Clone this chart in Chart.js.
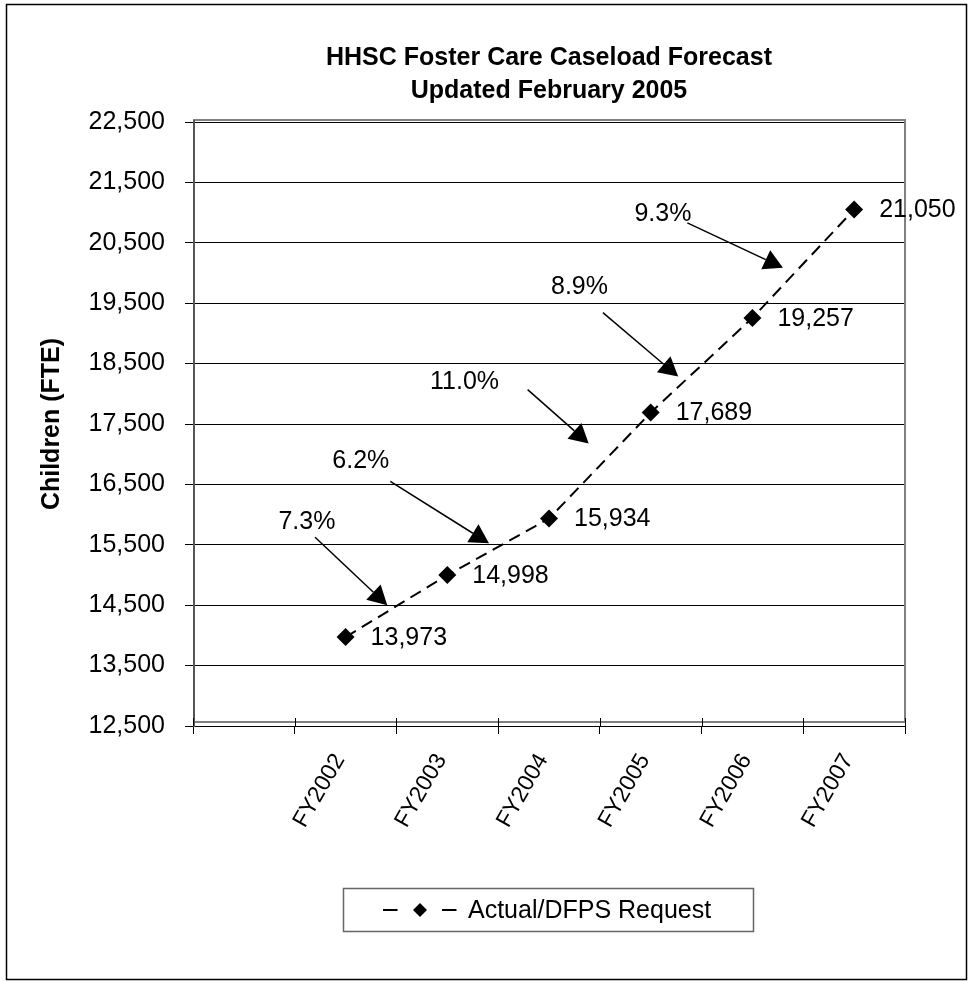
<!DOCTYPE html>
<html><head><meta charset="utf-8">
<script src="https://cdn.jsdelivr.net/npm/chart.js@4.4.1/dist/chart.umd.min.js"></script>
<style>html,body{margin:0;padding:0;background:#fff}#wrap{width:972px;height:981px;position:relative}</style>
</head><body><div id="wrap"><canvas id="c" width="972" height="981"></canvas></div>
<script>
const categories = ['', 'FY2002', 'FY2003', 'FY2004', 'FY2005', 'FY2006', 'FY2007'];
const caseload = [null, 13973, 14998, 15934, 17689, 19257, 21050];
const yMin = 12500, yMax = 22500, yStep = 1000;
const growthLabels = ['7.3%', '6.2%', '11.0%', '8.9%', '9.3%'];
const titleLines = ['HHSC Foster Care Caseload Forecast', 'Updated February 2005'];
const yTitle = 'Children (FTE)';
const seriesName = 'Actual/DFPS Request';

const FONT = '"Liberation Sans", Arial, Helvetica, sans-serif';

// annotation anchors in data units: [category index, value]
const annot = {
  label: [[0.62, 15872], [1.15, 16880], [2.17, 18186], [3.30, 19773], [4.12, 20979]],
  from:  [[0.70, 15624], [1.44, 16549], [2.79, 18070], [3.53, 19343], [4.36, 20830]],
  to:    [[1.41, 14500], [2.41, 15524], [3.39, 17177], [4.27, 18285], [5.30, 20087]]
};

const numFmt = v => v.toLocaleString('en-US');

const decor = {
  id: 'decor',
  beforeDatasetsDraw(chart) {
    const ctx = chart.ctx, a = chart.chartArea, xs = chart.scales.x;
    ctx.save();
    ctx.strokeStyle = '#808080'; ctx.lineWidth = 2;
    ctx.strokeRect(a.left + 1, a.top - 2, a.right - a.left - 1, a.bottom - a.top - 2);
    ctx.strokeStyle = '#000'; ctx.lineWidth = 1;
    ctx.beginPath();
    ctx.moveTo(a.left, a.bottom + 0.5); ctx.lineTo(a.right, a.bottom + 0.5);
    ctx.stroke();
    ctx.strokeStyle = '#555'; ctx.lineWidth = 2;
    ctx.beginPath();
    ctx.moveTo(a.left + 1, a.top - 2); ctx.lineTo(a.left + 1, a.bottom + 1);
    ctx.stroke();
    ctx.strokeStyle = '#000'; ctx.lineWidth = 1;
    const n = categories.length;
    for (let i = 0; i <= n; i++) {
      const px = Math.round(xs.getPixelForValue(i - 0.5)) + 0.5;
      ctx.beginPath(); ctx.moveTo(px, a.bottom - 8); ctx.lineTo(px, a.bottom); ctx.stroke();
    }
    ctx.restore();
  },
  afterDatasetsDraw(chart) {
    const ctx = chart.ctx, xs = chart.scales.x, ys = chart.scales.y;
    ctx.save();
    ctx.fillStyle = '#000';
    const meta = chart.getDatasetMeta(0);
    ctx.font = '25px ' + FONT;
    ctx.textAlign = 'left'; ctx.textBaseline = 'middle';
    meta.data.forEach((pt, i) => {
      if (caseload[i] == null) return;
      ctx.fillText(numFmt(caseload[i]), pt.x + 25, pt.y + 1);
    });
    growthLabels.forEach((t, i) => {
      const lx = xs.getPixelForValue(annot.label[i][0]), ly = ys.getPixelForValue(annot.label[i][1]);
      ctx.textAlign = 'center'; ctx.textBaseline = 'middle';
      ctx.fillText(t, lx, ly);
      const fx = xs.getPixelForValue(annot.from[i][0]), fy = ys.getPixelForValue(annot.from[i][1]);
      const tx = xs.getPixelForValue(annot.to[i][0]), ty = ys.getPixelForValue(annot.to[i][1]);
      const ang = Math.atan2(ty - fy, tx - fx);
      const hl = 19, hw = 10.5;
      const bx = tx - hl * Math.cos(ang), by = ty - hl * Math.sin(ang);
      ctx.strokeStyle = '#000'; ctx.lineWidth = 1.5;
      ctx.beginPath(); ctx.moveTo(fx, fy); ctx.lineTo(bx, by); ctx.stroke();
      ctx.beginPath();
      ctx.moveTo(tx, ty);
      ctx.lineTo(bx + hw * Math.sin(ang), by - hw * Math.cos(ang));
      ctx.lineTo(bx - hw * Math.sin(ang), by + hw * Math.cos(ang));
      ctx.closePath(); ctx.fill();
    });
    ctx.restore();
  },
  afterDraw(chart) {
    const ctx = chart.ctx, a = chart.chartArea;
    ctx.save();
    ctx.fillStyle = '#000';
    const cx = (a.left + a.right) / 2;
    ctx.font = 'bold 25px ' + FONT;
    ctx.textAlign = 'center'; ctx.textBaseline = 'alphabetic';
    ctx.fillText(titleLines[0], cx, 65);
    ctx.fillText(titleLines[1], cx, 98);
    ctx.save();
    ctx.translate(59, (a.top + a.bottom) / 2);
    ctx.rotate(-Math.PI / 2);
    ctx.textAlign = 'center';
    ctx.fillText(yTitle, 0, 0);
    ctx.restore();
    const lx = 343.5, ly = 888.5, lw = 410, lh = 43;
    ctx.strokeStyle = '#666'; ctx.lineWidth = 1.5;
    ctx.strokeRect(lx, ly, lw, lh);
    const my = ly + lh / 2;
    ctx.strokeStyle = '#000'; ctx.lineWidth = 2;
    ctx.setLineDash([14.5, 44.5]);
    ctx.beginPath(); ctx.moveTo(383, my); ctx.lineTo(458, my); ctx.stroke();
    ctx.setLineDash([]);
    ctx.beginPath();
    ctx.moveTo(420, my - 7); ctx.lineTo(427, my); ctx.lineTo(420, my + 7); ctx.lineTo(413, my);
    ctx.closePath(); ctx.fill();
    ctx.font = '25px ' + FONT;
    ctx.textAlign = 'left'; ctx.textBaseline = 'middle';
    ctx.fillText(seriesName, 468, my + 1);
    ctx.strokeStyle = '#000'; ctx.lineWidth = 1.5;
    ctx.strokeRect(6.5, 4.5, 960, 975);
    ctx.restore();
  }
};

new Chart(document.getElementById('c'), {
  type: 'line',
  data: {
    labels: categories,
    datasets: [{
      label: seriesName,
      data: caseload,
      borderColor: '#000',
      backgroundColor: '#000',
      borderWidth: 2,
      borderDash: [12, 7],
      pointStyle: 'rectRot',
      pointRadius: 9,
      pointHoverRadius: 9,
      pointBorderWidth: 0,
      pointBackgroundColor: '#000',
      tension: 0,
      fill: false
    }]
  },
  options: {
    responsive: false,
    animation: false,
    events: [],
    layout: { padding: { top: 122, right: 67, bottom: 0, left: 0 } },
    plugins: { legend: { display: false }, title: { display: false }, tooltip: { enabled: false } },
    scales: {
      x: {
        type: 'category',
        offset: true,
        afterFit: s => { s.height = 255; },
        grid: { offset: true, drawOnChartArea: false, drawTicks: true, tickLength: 8, color: '#000', lineWidth: 1 },
        border: { display: false },
        ticks: { autoSkip: false, maxRotation: 60, minRotation: 60, padding: 15, labelOffset: -6, color: '#000', font: { family: FONT, size: 23 } }
      },
      y: {
        min: yMin, max: yMax,
        afterFit: s => { s.width = 193; },
        afterBuildTicks: s => { const t = []; for (let v = yMin; v <= yMax; v += yStep) t.push({ value: v }); s.ticks = t; },
        grid: { color: '#000', lineWidth: 1, tickLength: 8, drawTicks: true },
        border: { display: false },
        ticks: { padding: 20, color: '#000', font: { family: FONT, size: 25 }, callback: v => numFmt(v) }
      }
    }
  },
  plugins: [decor]
});
</script></body></html>
